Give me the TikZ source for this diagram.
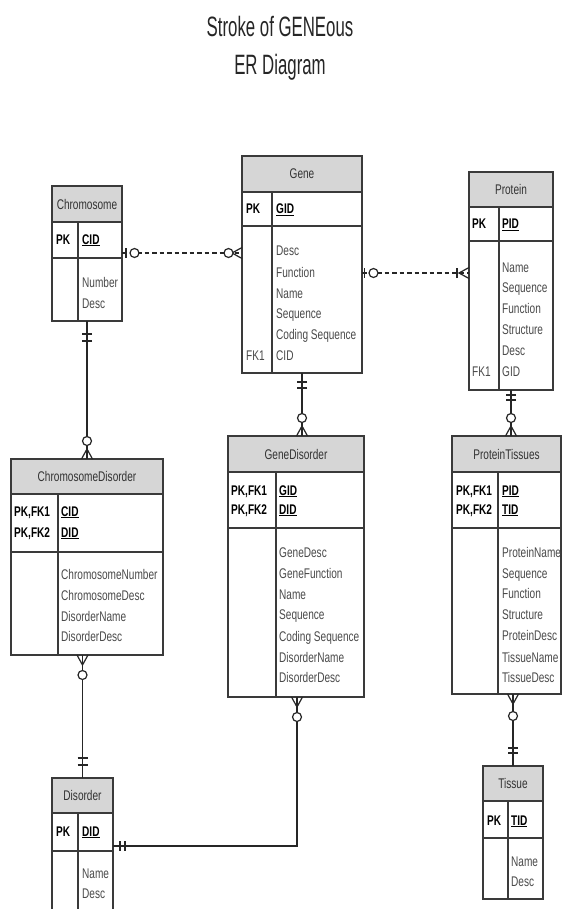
\documentclass[tikz,border=0pt]{standalone}
\usepackage{fontspec}
\setmainfont{Liberation Sans}[FakeStretch=0.72]
\newfontfamily\titlefont{Liberation Sans}[FakeStretch=0.6]
\definecolor{linegray}{HTML}{3A3A3A}
\definecolor{hdrfill}{HTML}{D6D6D6}
\definecolor{bodygray}{HTML}{4A4A4A}
\definecolor{hdrtext}{HTML}{333333}
\tikzset{
  ent/.style={draw=linegray, line width=1.2pt, anchor=north west, inner sep=0, outer sep=0},
  hdr/.style={draw=linegray, fill=hdrfill, line width=1.2pt, anchor=north west, inner sep=0, outer sep=0,
    font=\fontsize{14}{16}\selectfont, text=hdrtext},
  grid/.style={draw=linegray, line width=1.1pt},
  txt/.style={anchor=base west, inner sep=0, font=\fontsize{14}{16}\selectfont, text=bodygray},
  keytxt/.style={anchor=base west, inner sep=0, font=\fontsize{14}{16}\selectfont\bfseries, text=black},
  ttl/.style={anchor=base, inner sep=0, font=\titlefont\fontsize{28}{30}\selectfont, text=black!85},
  conn/.style={draw=black!85, line width=1.2pt},
  dashconn/.style={conn, dash pattern=on 4.5pt off 3pt}
}
\newcommand{\mkbar}[3]{\begin{scope}[shift={(#1)},rotate=#2]\draw[conn] (#3,-5)--(#3,5);\end{scope}}
\newcommand{\mkcirc}[3]{\begin{scope}[shift={(#1)},rotate=#2]\draw[conn,fill=white] (#3,0) circle[radius=4.5];\end{scope}}
\newcommand{\mkcrow}[2]{\begin{scope}[shift={(#1)},rotate=#2]\draw[conn] (0,-5.5)--(10,0)--(0,5.5);\end{scope}}
\begin{document}
\begin{tikzpicture}[x=1pt,y=-1pt]
\clip (0,0) rectangle (564,909);
\fill[white] (0,0) rectangle (564,909);

% Title
\node[ttl] (t1) at (280,37) {Stroke of GENEous};
\node[ttl] (t2) at (280,74.5) {ER Diagram};

% ---------- Chromosome ----------
\node[ent, minimum width=70, minimum height=135] (chrom) at (52,186) {};
\node[hdr, minimum width=70, minimum height=36] (chromH) at (52,186) {Chromosome};
\draw[grid] (52,258) -- (122,258) (78,222) -- (78,321);
\node[keytxt] (chromPK) at (56,244) {PK};
\node[keytxt] (chromCID) at (82,244) {\underline{CID}};
\node[txt] (chromA1) at (82,287) {Number};
\node[txt] (chromA2) at (82,308) {Desc};

% ---------- Gene ----------
\node[ent, minimum width=120, minimum height=217] (gene) at (242,156) {};
\node[hdr, minimum width=120, minimum height=36] (geneH) at (242,156) {Gene};
\draw[grid] (242,226) -- (362,226) (272,192) -- (272,373);
\node[keytxt] (genePK) at (246,214) {PK};
\node[keytxt] (geneGID) at (276,214) {\underline{GID}};
\node[txt] (geneA1) at (276,255) {Desc};
\node[txt] (geneA2) at (276,277) {Function};
\node[txt] (geneA3) at (276,298) {Name};
\node[txt] (geneA4) at (276,318) {Sequence};
\node[txt] (geneA5) at (276,339) {Coding Sequence};
\node[txt] (geneA6) at (276,360) {CID};
\node[txt] (geneFK) at (246,360) {FK1};

% ---------- Protein ----------
\node[ent, minimum width=84, minimum height=218] (prot) at (469,172) {};
\node[hdr, minimum width=84, minimum height=35] (protH) at (469,172) {Protein};
\draw[grid] (469,241) -- (553,241) (499,207) -- (499,390);
\node[keytxt] (protPK) at (472,229) {PK};
\node[keytxt] (protPID) at (502,229) {\underline{PID}};
\node[txt] (protA1) at (502,272) {Name};
\node[txt] (protA2) at (502,292) {Sequence};
\node[txt] (protA3) at (502,313) {Function};
\node[txt] (protA4) at (502,334) {Structure};
\node[txt] (protA5) at (502,355) {Desc};
\node[txt] (protA6) at (502,376) {GID};
\node[txt] (protFK) at (472,376) {FK1};

% ---------- ChromosomeDisorder ----------
\node[ent, minimum width=152, minimum height=196] (cd) at (11,459) {};
\node[hdr, minimum width=152, minimum height=35] (cdH) at (11,459) {ChromosomeDisorder};
\draw[grid] (11,552) -- (163,552) (58,494) -- (58,655);
\node[keytxt] (cdPK1) at (14,516) {PK,FK1};
\node[keytxt] (cdPK2) at (14,537) {PK,FK2};
\node[keytxt] (cdK1) at (61,516) {\underline{CID}};
\node[keytxt] (cdK2) at (61,537) {\underline{DID}};
\node[txt] (cdA1) at (61,579) {ChromosomeNumber};
\node[txt] (cdA2) at (61,600) {ChromosomeDesc};
\node[txt] (cdA3) at (61,621) {DisorderName};
\node[txt] (cdA4) at (61,641) {DisorderDesc};

% ---------- GeneDisorder ----------
\node[ent, minimum width=136, minimum height=261] (gd) at (228,436) {};
\node[hdr, minimum width=136, minimum height=36] (gdH) at (228,436) {GeneDisorder};
\draw[grid] (228,528) -- (364,528) (276,472) -- (276,697);
\node[keytxt] (gdPK1) at (231,495) {PK,FK1};
\node[keytxt] (gdPK2) at (231,514) {PK,FK2};
\node[keytxt] (gdK1) at (279,495) {\underline{GID}};
\node[keytxt] (gdK2) at (279,514) {\underline{DID}};
\node[txt] (gdA1) at (279,557) {GeneDesc};
\node[txt] (gdA2) at (279,578) {GeneFunction};
\node[txt] (gdA3) at (279,599) {Name};
\node[txt] (gdA4) at (279,619) {Sequence};
\node[txt] (gdA5) at (279,641) {Coding Sequence};
\node[txt] (gdA6) at (279,662) {DisorderName};
\node[txt] (gdA7) at (279,682) {DisorderDesc};

% ---------- ProteinTissues ----------
\node[ent, minimum width=109, minimum height=258] (pt) at (452,436) {};
\node[hdr, minimum width=109, minimum height=36] (ptH) at (452,436) {ProteinTissues};
\draw[grid] (452,528) -- (561,528) (498,472) -- (498,694);
\node[keytxt] (ptPK1) at (456,495) {PK,FK1};
\node[keytxt] (ptPK2) at (456,514) {PK,FK2};
\node[keytxt] (ptK1) at (502,495) {\underline{PID}};
\node[keytxt] (ptK2) at (502,514) {\underline{TID}};
\node[txt] (ptA1) at (502,557) {ProteinName};
\node[txt] (ptA2) at (502,578) {Sequence};
\node[txt] (ptA3) at (502,598) {Function};
\node[txt] (ptA4) at (502,619) {Structure};
\node[txt] (ptA5) at (502,640) {ProteinDesc};
\node[txt] (ptA6) at (502,662) {TissueName};
\node[txt] (ptA7) at (502,682) {TissueDesc};

% ---------- Tissue ----------
\node[ent, minimum width=60, minimum height=133] (tis) at (483,766) {};
\node[hdr, minimum width=60, minimum height=35] (tisH) at (483,766) {Tissue};
\draw[grid] (483,838) -- (543,838) (508,801) -- (508,899);
\node[keytxt] (tisPK) at (487,825) {PK};
\node[keytxt] (tisTID) at (511,825) {\underline{TID}};
\node[txt] (tisA1) at (511,866) {Name};
\node[txt] (tisA2) at (511,886) {Desc};

% ---------- Disorder ----------
\node[ent, minimum width=61, minimum height=140] (dis) at (52,778) {};
\node[hdr, minimum width=61, minimum height=35] (disH) at (52,778) {Disorder};
\draw[grid] (52,851) -- (113,851) (78,813) -- (78,918);
\node[keytxt] (disPK) at (56,836) {PK};
\node[keytxt] (disDID) at (82,836) {\underline{DID}};
\node[txt] (disA1) at (82,878) {Name};
\node[txt] (disA2) at (82,898) {Desc};

% ---------- Connectors ----------
\coordinate (ya) at (0,253);
\coordinate (yb) at (0,273);
\coordinate (xg) at (297,0);
\coordinate (yg) at (0,846);
\coordinate (e1a) at (chrom.east |- ya);
\coordinate (e1b) at (gene.west |- ya);
\coordinate (e2a) at (gene.east |- yb);
\coordinate (e2b) at (prot.west |- yb);
\coordinate (e3a) at (chrom.south);
\coordinate (e3b) at (cd.north -| chrom.south);
\coordinate (e4a) at (gene.south);
\coordinate (e4b) at (gd.north -| gene.south);
\coordinate (e5a) at (prot.south);
\coordinate (e5b) at (pt.north -| prot.south);
\coordinate (e6a) at (cd.south -| dis.north);
\coordinate (e6b) at (dis.north);
\coordinate (e7a) at (gd.south -| xg);
\coordinate (e7b) at (dis.east |- yg);
\coordinate (e8a) at (pt.south -| tis.north);
\coordinate (e8b) at (tis.north);

\draw[dashconn] (e1a) -- (e1b);
\draw[dashconn] (e2a) -- (e2b);
\draw[conn] (e3a) -- (e3b);
\draw[conn] (e4a) -- (e4b);
\draw[conn] (e5a) -- (e5b);
\draw[conn] (e6a) -- (e6b);
\draw[conn] (e7a) -- (xg |- yg) -- (e7b);
\draw[conn] (e8a) -- (e8b);

% markers
\mkbar{e1a}{0}{4}\mkcirc{e1a}{0}{12.5}
\mkcrow{e1b}{180}\mkcirc{e1b}{180}{13.5}
\mkbar{e2a}{0}{2.5}\mkcirc{e2a}{0}{11.5}
\mkcrow{e2b}{180}\mkbar{e2b}{180}{12}
\mkbar{e3a}{-90}{13}\mkbar{e3a}{-90}{20}
\mkcrow{e3b}{90}\mkcirc{e3b}{90}{18}
\mkbar{e4a}{-90}{9}\mkbar{e4a}{-90}{15}
\mkcrow{e4b}{90}\mkcirc{e4b}{90}{18}
\mkbar{e5a}{-90}{5}\mkbar{e5a}{-90}{10}
\mkcrow{e5b}{90}\mkcirc{e5b}{90}{18}
\mkcrow{e6a}{-90}\mkcirc{e6a}{-90}{20}
\mkbar{e6b}{90}{13}\mkbar{e6b}{90}{20}
\mkcrow{e7a}{-90}\mkcirc{e7a}{-90}{20}
\mkbar{e7b}{0}{7}\mkbar{e7b}{0}{12}
\mkcrow{e8a}{-90}\mkcirc{e8a}{-90}{22}
\mkbar{e8b}{90}{13}\mkbar{e8b}{90}{18}
\end{tikzpicture}
\end{document}
